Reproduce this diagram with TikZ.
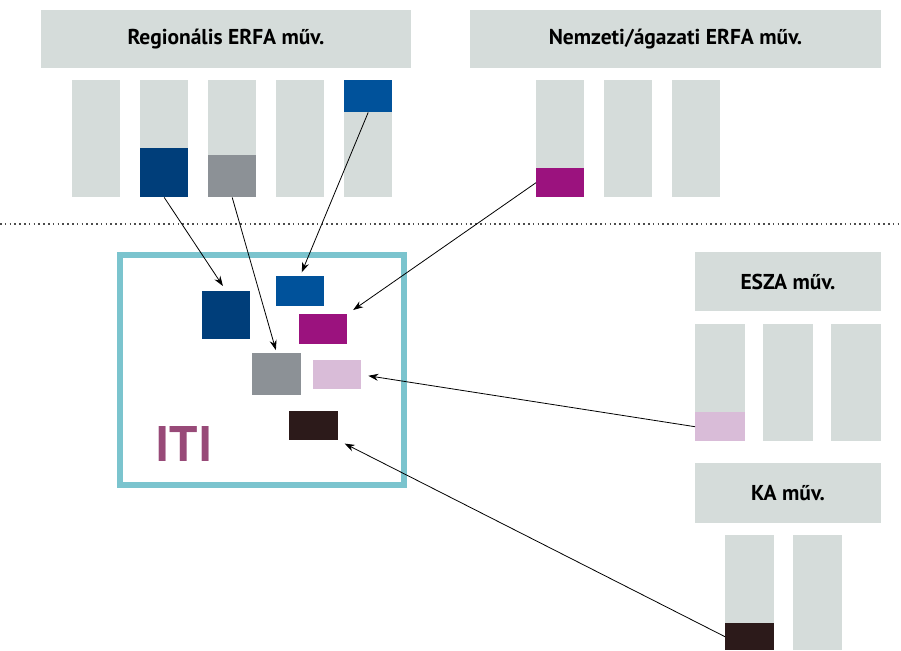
\documentclass[tikz,border=0pt]{standalone}
\usepackage{fontspec}
\setmainfont{PT Sans}
\usetikzlibrary{arrows.meta}

\definecolor{szurke}{RGB}{213,220,218}
\definecolor{sotetkek}{RGB}{0,62,122}
\definecolor{kek}{RGB}{0,82,155}
\definecolor{acel}{RGB}{140,145,150}
\definecolor{lila}{RGB}{155,18,126}
\definecolor{rozsa}{RGB}{217,188,216}
\definecolor{barna}{RGB}{44,26,26}
\definecolor{turkiz}{RGB}{123,196,206}
\definecolor{itiszin}{RGB}{152,74,120}

\begin{document}
\begin{tikzpicture}[x=1pt, y=-1pt,
    fej/.style={fill=szurke, inner sep=0pt, font=\bfseries\fontsize{21.5}{24}\selectfont},
    oszlop/.style={fill=szurke, inner sep=0pt, anchor=north west, minimum width=48pt},
    blokk/.style={inner sep=0pt, anchor=north west, minimum width=48pt},
    nyil/.style={-{Stealth[length=10pt, width=7pt]}, line width=0.8pt}]
    \useasboundingbox (0,0) rectangle (901,650);

    % regionalis ERFA
    \node[fej, minimum width=370pt, minimum height=58pt] (rfej) at (226,39) {Regionális ERFA műv.};
    \node[oszlop, minimum height=117pt] (r1) at (72,80) {};
    \node[oszlop, minimum height=117pt] (r2) at (140,80) {};
    \node[oszlop, minimum height=117pt] (r3) at (208,80) {};
    \node[oszlop, minimum height=117pt] (r4) at (276,80) {};
    \node[oszlop, minimum height=117pt] (r5) at (344,80) {};
    \node[blokk, fill=sotetkek, minimum height=49pt] (rb2) at (140,148) {};
    \node[blokk, fill=acel, minimum height=42pt] (rb3) at (208,155) {};
    \node[blokk, fill=kek, minimum height=32pt] (rb5) at (344,80) {};

    % nemzeti/agazati ERFA
    \node[fej, minimum width=411pt, minimum height=58pt] (nfej) at (675.5,39) {Nemzeti/ágazati ERFA műv.};
    \node[oszlop, minimum height=117pt] (n1) at (536,80) {};
    \node[oszlop, minimum height=117pt] (n2) at (604,80) {};
    \node[oszlop, minimum height=117pt] (n3) at (672,80) {};
    \node[blokk, fill=lila, minimum height=29pt] (nb1) at (536,168) {};

    \draw[dash pattern=on 1.6pt off 3.2pt, line width=1.3pt, black!70] (0,224) -- (901,224);

    % ESZA
    \node[fej, minimum width=186pt, minimum height=59pt] (efej) at (788,281.5) {ESZA műv.};
    \node[oszlop, minimum width=50pt, minimum height=117pt] (e1) at (695,324) {};
    \node[oszlop, minimum width=50pt, minimum height=117pt] (e2) at (763,324) {};
    \node[oszlop, minimum width=50pt, minimum height=117pt] (e3) at (831,324) {};
    \node[blokk, fill=rozsa, minimum width=50pt, minimum height=29pt] (eb1) at (695,412) {};

    % KA
    \node[fej, minimum width=186pt, minimum height=60pt] (kfej) at (788,493) {KA műv.};
    \node[oszlop, minimum width=49pt, minimum height=115pt] (k1) at (725,535) {};
    \node[oszlop, minimum width=49pt, minimum height=115pt] (k2) at (793,535) {};
    \node[blokk, fill=barna, minimum width=49pt, minimum height=27pt] (kb1) at (725,623) {};

    % ITI
    \node[draw=turkiz, line width=6pt, inner sep=0pt, minimum width=284pt, minimum height=230pt] (iti) at (262,370) {};
    \node[text=itiszin, font=\bfseries\fontsize{50}{50}\selectfont, inner sep=0pt] (itic) at (184,443.5) {ITI};
    \node[blokk, fill=sotetkek, minimum height=48pt] (i1) at (202,291) {};
    \node[blokk, fill=kek, minimum height=30pt] (i2) at (276,276) {};
    \node[blokk, fill=lila, minimum height=30pt] (i3) at (299,314) {};
    \node[blokk, fill=acel, minimum width=49pt, minimum height=42pt] (i4) at (252,353) {};
    \node[blokk, fill=rozsa, minimum height=29pt] (i5) at (313,360) {};
    \node[blokk, fill=barna, minimum width=49pt, minimum height=29pt] (i6) at (289,411) {};

    \draw[nyil, shorten >=6pt] (rb2.south) -- (i1.north);
    \draw[nyil, shorten >=3pt] (rb3.south) -- (i4.north);
    \draw[nyil, shorten >=4pt] (rb5.south) -- (i2.north);
    \draw[nyil, shorten >=7pt] (nb1.west) -- (i3.north east);
    \draw[nyil, shorten >=7pt] (eb1.west) -- (i5.east);
    \draw[nyil, shorten >=7pt] (kb1.west) -- (i6.south east);
\end{tikzpicture}
\end{document}
